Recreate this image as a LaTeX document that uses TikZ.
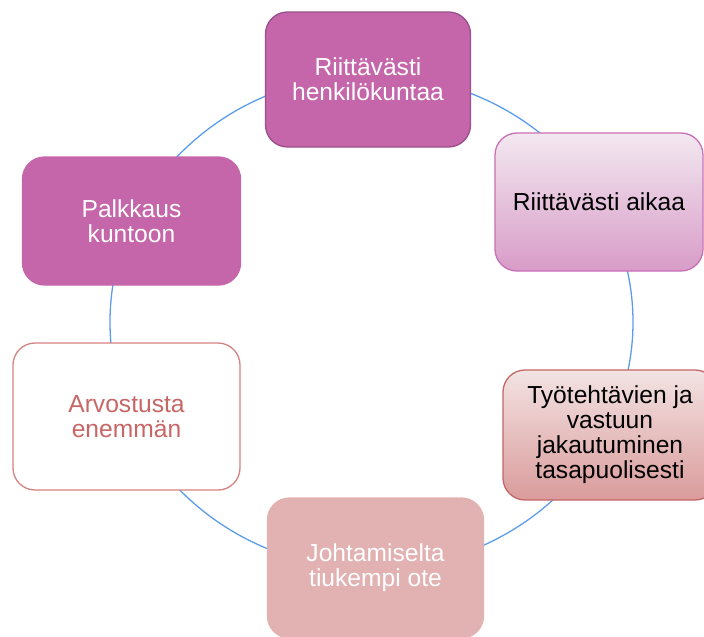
\documentclass[tikz,border=0pt]{standalone}
\usepackage{fontspec}
\setmainfont{Liberation Sans}

\definecolor{violetti}{HTML}{C466A9}
\definecolor{violettireuna}{HTML}{9A4F8A}
\definecolor{roosavaalea}{HTML}{F3E8F0}
\definecolor{roosatumma}{HTML}{D89CC8}
\definecolor{roosareuna}{HTML}{C870B6}
\definecolor{punavaalea}{HTML}{F3E3E3}
\definecolor{punatumma}{HTML}{DA9B9B}
\definecolor{punareuna}{HTML}{C26666}
\definecolor{vanharoosa}{HTML}{E2B1B1}
\definecolor{arvoreuna}{HTML}{D68282}
\definecolor{arvoteksti}{HTML}{C86666}
\definecolor{kehansini}{HTML}{5C9DEB}

\tikzset{
	kortti/.style={rounded corners=22pt, align=center, inner sep=0pt,
		line width=1.3pt, font=\fontsize{24.6}{25}\selectfont},
}

\begin{document}
\begin{tikzpicture}[x=1pt, y=-1pt]
	\useasboundingbox (0,0) rectangle (704,637);
	% Kehä
	\draw[kehansini, line width=1.3pt] (371.5,322) ellipse [x radius=261.5pt, y radius=247pt];
	% Laatikot
	\node[kortti, fill=violetti, draw=violettireuna, text=white,
		minimum width=205pt, minimum height=135pt] (henkilokunta) at (368,79.5)
		{Riittävästi\\henkilökuntaa};
	\node[kortti, top color=roosavaalea, bottom color=roosatumma, draw=roosareuna,
		minimum width=208pt, minimum height=138pt] (aika) at (599,202)
		{Riittävästi aikaa};
	\node[kortti, top color=punavaalea, bottom color=punatumma, draw=punareuna,
		minimum width=214pt, minimum height=130pt] (tyonjako) at (610,435)
		{Työtehtävien ja\\vastuun\\jakautuminen\\tasapuolisesti};
	\node[kortti, fill=vanharoosa, draw=vanharoosa, text=white,
		minimum width=216pt, minimum height=140pt] (johtaminen) at (375.5,568)
		{Johtamiselta\\tiukempi ote};
	\node[kortti, fill=white, draw=arvoreuna, text=arvoteksti,
		minimum width=227pt, minimum height=147pt] (arvostus) at (126.5,416.5)
		{Arvostusta\\enemmän};
	\node[kortti, fill=violetti, draw=violetti, text=white,
		minimum width=218pt, minimum height=128pt] (palkkaus) at (131.5,221)
		{Palkkaus\\kuntoon};
\end{tikzpicture}
\end{document}
